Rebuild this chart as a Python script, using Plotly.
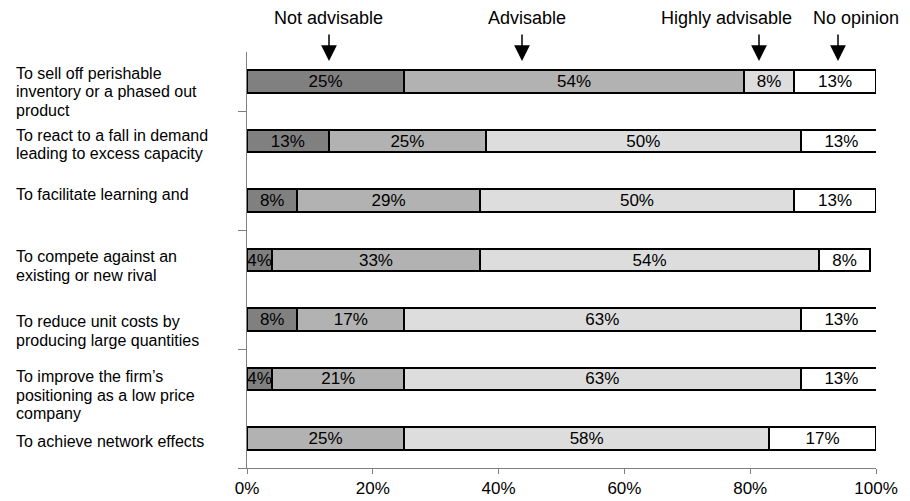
import plotly.graph_objects as go

# ---- data ----
categories = [
    "To sell off perishable<br>inventory or a phased out<br>product",
    "To react to a fall in demand<br>leading to excess capacity",
    "To facilitate learning and",
    "To compete against an<br>existing or new rival",
    "To reduce unit costs by<br>producing large quantities",
    "To improve the firm\u2019s<br>positioning as a low price<br>company",
    "To achieve network effects",
]
series_names = ["Not advisable", "Advisable", "Highly advisable", "No opinion"]
not_advisable = [25, 13, 8, 4, 8, 4, 0]
advisable = [54, 25, 29, 33, 17, 21, 25]
highly_advisable = [8, 50, 50, 54, 63, 63, 58]
no_opinion = [13, 13, 13, 8, 13, 13, 17]
x_ticks = [0, 20, 40, 60, 80, 100]
x_tick_labels = [f"{v}%" for v in x_ticks]

# ---- styling ----
colors = ["#808080", "#b2b2b2", "#dddddd", "#ffffff"]
FONT = "Liberation Sans, Arial, sans-serif"
W, H = 910, 501
ML, MR, MT, MB = 247, 34, 52, 33
plot_h = H - MT - MB
plot_w = W - ML - MR

# header arrow / text x positions (pixels)
arrow_px = [329, 522, 759, 838]
head_text_px = [328, 527, 726, 856]
# vertical pixel offsets of first label line relative to bar centre
label_offsets = [-8.4, -6.1, -5.6, -3.3, 2.3, -2.2, 3.4]
line_step = 18.4

ypos = list(range(len(categories)))
fig = go.Figure()
for name, vals, col in zip(series_names,
                           [not_advisable, advisable, highly_advisable, no_opinion],
                           colors):
    fig.add_trace(go.Bar(
        name=name, orientation="h", x=vals, y=ypos, width=0.38,
        marker=dict(color=col, line=dict(color="black", width=2)),
        text=[f"{v}%" if v > 0 else "" for v in vals],
        textposition="inside", insidetextanchor="middle", textangle=0,
        textfont=dict(family=FONT, size=17, color="black"),
        hoverinfo="skip", showlegend=False,
    ))

annotations = []
# category labels (left aligned, one annotation per line)
for i, (lab, off) in enumerate(zip(categories, label_offsets)):
    for k, line in enumerate(lab.split("<br>")):
        annotations.append(dict(
            text=line, xref="paper", x=(14 - ML) / plot_w, xanchor="left",
            yref="y", y=i, yanchor="middle", yshift=-(off + k * line_step),
            showarrow=False, font=dict(family=FONT, size=16, color="black"),
        ))

# header labels and arrows
for name, tpx, apx in zip(series_names, head_text_px, arrow_px):
    annotations.append(dict(
        text=name, xref="paper", x=(tpx - ML) / plot_w, xanchor="center",
        yref="paper", y=1 + (MT - 18) / plot_h, yanchor="middle",
        showarrow=False, font=dict(family=FONT, size=18, color="black"),
    ))
    annotations.append(dict(
        text="", xref="paper", x=(apx - ML) / plot_w,
        yref="paper", y=1 - (61 - MT) / plot_h,
        showarrow=True, ax=0, ay=-28, arrowhead=2, arrowsize=2.1,
        arrowwidth=1.5, arrowcolor="black", standoff=0,
    ))

fig.update_layout(
    width=W, height=H, barmode="stack",
    margin=dict(l=ML, r=MR, t=MT, b=MB, autoexpand=False),
    plot_bgcolor="white", paper_bgcolor="white",
    font=dict(family=FONT, size=16, color="black"),
    uniformtext=dict(minsize=17, mode="show"),
    annotations=annotations,
    xaxis=dict(
        range=[0, 100], tickmode="array", tickvals=x_ticks, ticktext=x_tick_labels,
        showgrid=False, zeroline=False, showline=True, linecolor="#7f7f7f",
        linewidth=1, ticks="outside", ticklen=5, tickcolor="#7f7f7f",
        tickfont=dict(family=FONT, size=17, color="black"),
        ticklabelstandoff=0, fixedrange=True,
    ),
    yaxis=dict(
        range=[len(categories) - 0.5, -0.5], tickvals=[0.5, 2.5, 4.5, 6.5],
        showticklabels=False, showgrid=False, zeroline=False, showline=True,
        linecolor="#7f7f7f", linewidth=1, ticks="outside", ticklen=8,
        tickcolor="#7f7f7f", fixedrange=True,
    ),
)

fig.write_html("out.html", config={"displayModeBar": False})
